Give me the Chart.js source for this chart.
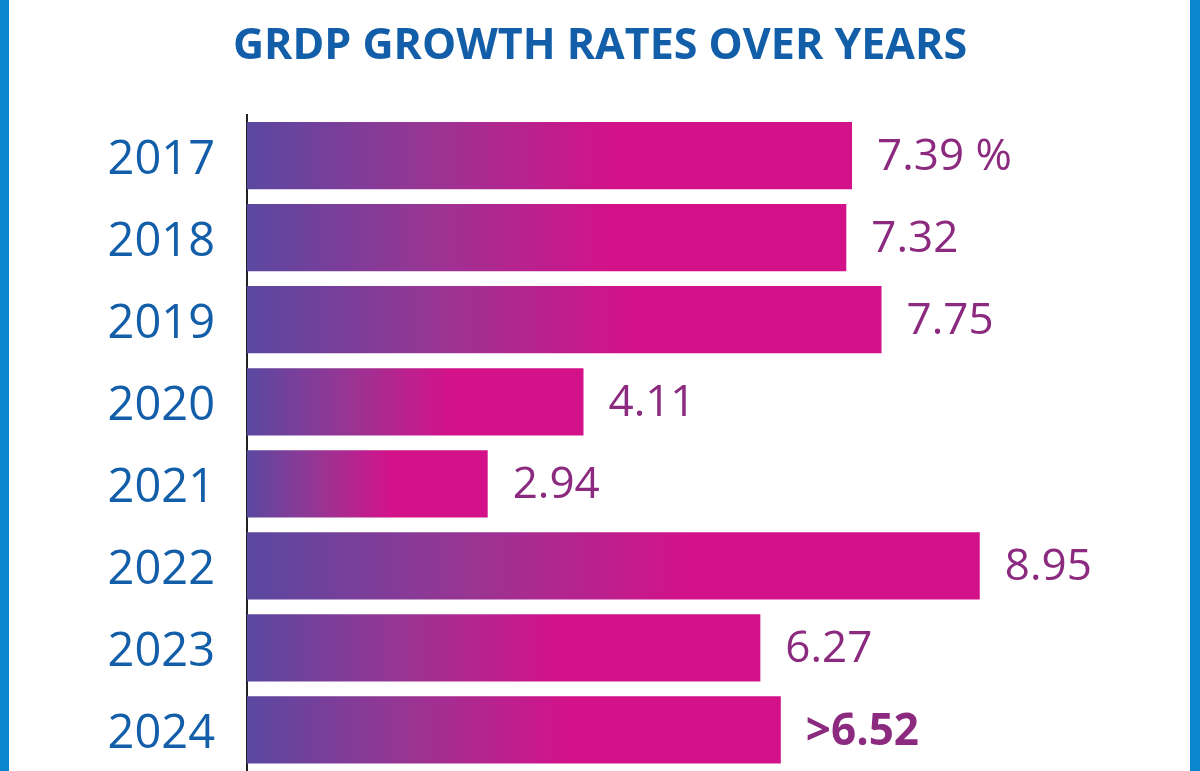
<!DOCTYPE html>
<html>
<head>
<meta charset="utf-8">
<script src="https://cdn.jsdelivr.net/npm/chart.js@4.4.1/dist/chart.umd.min.js"></script>
<style>
  html, body { margin: 0; padding: 0; background: #fff; }
  #wrap { position: relative; width: 1200px; height: 771px; overflow: hidden; background: #fff; }
  #wrap::before, #wrap::after {
    content: ''; position: absolute; top: 0; bottom: 0; width: 9px; background: #0a86cf; z-index: 2;
  }
  #wrap::before { left: 0; }
  #wrap::after { right: 0; width: 10px; }
  canvas { position: absolute; left: 0; top: 0; }
</style>
</head>
<body>
<div id="wrap"><canvas id="c" width="1200" height="771"></canvas></div>
<script>
// ===== data =====
const years = ['2017', '2018', '2019', '2020', '2021', '2022', '2023', '2024'];
const growthRates = [7.39, 7.32, 7.75, 4.11, 2.94, 8.95, 6.27, 6.52];
const valueTexts = ['7.39 %', '7.32', '7.75', '4.11', '2.94', '8.95', '6.27', '>6.52'];
const boldLabels = [false, false, false, false, false, false, false, true];

const FONT = '"Open Sans", "Noto Sans", sans-serif';
const BLUE = '#135ea8';
const PURPLE = '#8b2a7f';

// gradient along each bar, purple-blue -> magenta
function barGradient(ctx) {
    const chart = ctx.chart;
    if (!chart.chartArea || ctx.type !== 'data') return '#d3128a';
    const xs = chart.scales.x;
    const x0 = xs.getPixelForValue(0);
    const x1 = xs.getPixelForValue(ctx.raw);
    const g = chart.ctx.createLinearGradient(x0, 0, x1, 0);
    g.addColorStop(0, '#5a48a0');
    g.addColorStop(0.3, '#983593');
    g.addColorStop(0.6, '#d3128a');
    g.addColorStop(1, '#d3128a');
    return g;
}

// value texts to the right of the bars
const valueLabelPlugin = {
    id: 'valueLabels',
    afterDatasetsDraw(chart) {
        const c = chart.ctx;
        const meta = chart.getDatasetMeta(0);
        c.save();
        c.fillStyle = PURPLE;
        c.textAlign = 'left';
        c.textBaseline = 'middle';
        meta.data.forEach((bar, i) => {
            c.font = (boldLabels[i] ? 'bold ' : '') + '44px ' + FONT;
            c.fillText(valueTexts[i], bar.x + 25, bar.y + 2);
        });
        c.restore();
    }
};

new Chart(document.getElementById('c'), {
    type: 'bar',
    data: {
        labels: years,
        datasets: [{
            data: growthRates,
            backgroundColor: barGradient,
            borderWidth: 0,
            barPercentage: 0.82,
            categoryPercentage: 1.0,
        }]
    },
    options: {
        indexAxis: 'y',
        responsive: false,
        animation: false,
        layout: { padding: 0 },
        scales: {
            x: { display: false, min: 0, max: 11.64 },
            y: {
                grid: { display: false, drawTicks: false },
                border: { display: true, color: '#222', width: 2 },
                ticks: {
                    color: BLUE,
                    font: { family: FONT, size: 47 },
                    padding: 32,
                    labelOffset: 5,
                },
                afterFit(scale) {
                    scale.width = 247;
                    scale.paddingTop = 0;
                    scale.paddingBottom = 0;
                }
            }
        },
        plugins: {
            legend: { display: false },
            tooltip: { enabled: false },
            title: {
                display: true,
                text: 'GRDP GROWTH RATES OVER YEARS',
                color: BLUE,
                font: { family: FONT, size: 43, weight: 'bold' },
                padding: { top: 21, bottom: 42 }
            }
        }
    },
    plugins: [valueLabelPlugin]
});
</script>
</body>
</html>
